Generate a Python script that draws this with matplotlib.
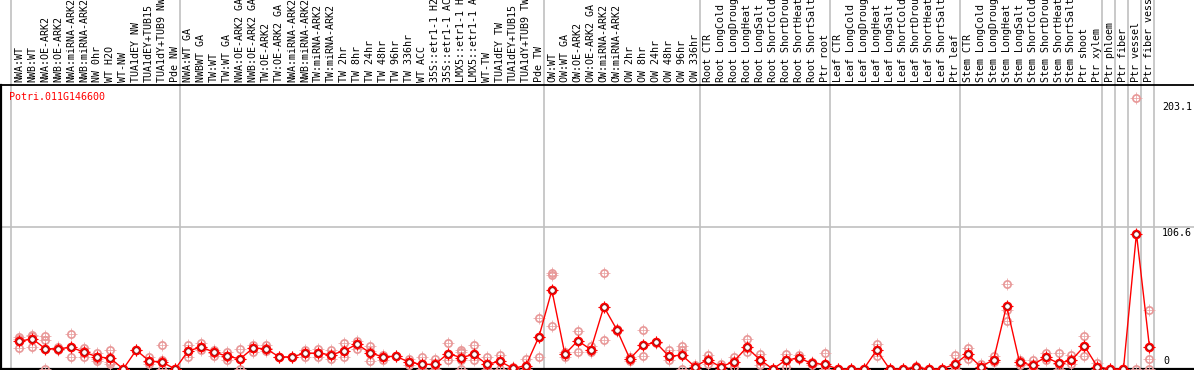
import numpy as np
import matplotlib
matplotlib.use("Agg")
from matplotlib import pyplot as plt

# sample labels, one per column
group_nw = ["NWA:WT", "NWB:WT", "NWA:OE-ARK2", "NWB:OE-ARK2", "NWA:miRNA-ARK2", "NWB:miRNA-ARK2",
            "NW 0hr", "WT H2O", "WT-NW", "TUA1dEY NW", "TUA1dEY+TUB15", "TUA1dY+TUB9 NW", "Pde NW"]
group_tw = ["NWA:WT GA", "NWBWT GA", "TW:WT", "TW:WT GA", "NWA:OE-ARK2 GA", "NWB:OE-ARK2 GA",
            "TW:OE-ARK2", "TW:OE-ARK2 GA", "NWA:miRNA-ARK2", "NWB:miRNA-ARK2", "TW:miRNA-ARK2",
            "TW:miRNA-ARK2", "TW 2hr", "TW 8hr", "TW 24hr", "TW 48hr", "TW 96hr", "TW 336hr", "WT ACC",
            "35S::etr1-1 H2O", "35S::etr1-1 ACC", "LMX5::etr1-1 H2O", "LMX5::etr1-1 ACC", "WT-TW",
            "TUA1dEY TW", "TUA1dEY+TUB15", "TUA1dY+TUB9 TW", "Pde TW"]
group_ow = ["OW:WT", "OW:WT GA", "OW:OE-ARK2", "OW:OE-ARK2 GA", "OW:miRNA-ARK2", "OW:miRNA-ARK2",
            "OW 2hr", "OW 8hr", "OW 24hr", "OW 48hr", "OW 96hr", "OW 336hr"]
group_root = ["Root CTR", "Root LongCold", "Root LongDrought", "Root LongHeat", "Root LongSalt",
              "Root ShortCold", "Root ShortDrought", "Root ShortHeat", "Root ShortSalt", "Ptr root"]
group_leaf = ["Leaf CTR", "Leaf LongCold", "Leaf LongDrought", "Leaf LongHeat", "Leaf LongSalt",
              "Leaf ShortCold", "Leaf ShortDrought", "Leaf ShortHeat", "Leaf ShortSalt", "Ptr leaf"]
group_stem = ["Stem CTR", "Stem LongCold", "Stem LongDrought", "Stem LongHeat", "Stem LongSalt",
              "Stem ShortCold", "Stem ShortDrought", "Stem ShortHeat", "Stem ShortSalt", "Ptr shoot",
              "Ptr xylem"]
group_ptr = ["Ptr phloem", "Ptr fiber", "Ptr vessel", "Ptr fiber vessel"]

groups = [group_nw, group_tw, group_ow, group_root, group_leaf, group_stem,
          group_ptr[0:1], group_ptr[1:2], group_ptr[2:3], group_ptr[3:4]]
labels = [s for g in groups for s in g]

# mean expression per sample
means = [20.7, 22.7, 15.2, 15.2, 16.2, 12.6, 9.1, 8.1, 0.0, 14.1, 6.1, 5.1, 0.0,
         13.6, 16.4, 12.6, 9.6, 7.6, 15.7, 15.2, 9.1, 9.1, 11.9, 11.9, 10.6, 13.6, 18.7, 12.1, 9.1,
         9.6, 5.1, 3.5, 3.5, 11.6, 8.6, 10.9, 3.5, 5.8, 0.5, 2.5, 24.2,
         59.1, 11.1, 21.2, 14.6, 46.7, 29.5, 7.6, 17.9, 19.9, 9.6, 10.4, 1.8,
         7.1, 1.5, 5.6, 16.2, 7.1, 0.0, 6.6, 8.3, 4.3, 3.5,
         0.0, 0.0, 0.0, 14.1, 0.0, 0.0, 1.3, 0.0, 0.0, 3.5,
         11.1, 1.8, 6.8, 47.5, 5.1, 2.8, 9.1, 4.3, 6.6, 17.2, 1.5,
         0.0, 0.0, 101.6, 16.7]

# replicate values per sample
reps = [[24.0, 22.5, 15.7], [25.8, 24.5, 16.4], [24.5, 21.5, 0.0], [16.2, 15.2, 14.4],
        [26.3, 16.2, 9.1], [15.7, 13.6, 9.1], [11.9, 7.6, 6.1], [14.4, 5.1, 3.8], [0.0, 0.0, 0.0],
        [14.1, 14.1, 14.1], [9.3, 5.1, 3.8], [17.9, 6.8, 0.0], [0.0, 0.0, 0.0],
        [17.9, 13.6, 9.1], [19.4, 16.4, 13.9], [14.4, 11.9, 10.1], [12.4, 8.8, 6.8],
        [14.9, 7.8, 0.0], [18.2, 15.7, 13.1], [17.9, 15.7, 13.6], [9.1, 9.1, 9.1],
        [9.1, 9.1, 9.1], [14.4, 11.9, 9.3], [15.2, 11.9, 9.1], [14.4, 10.6, 7.6],
        [19.4, 13.6, 9.3], [21.2, 18.7, 14.9], [17.4, 13.6, 5.8], [10.6, 9.1, 6.8],
        [9.6, 9.6, 9.6], [7.3, 5.1, 2.8], [8.8, 3.5, 0.0], [7.3, 3.3, 0.0], [19.4, 11.6, 6.8],
        [14.4, 13.1, 6.8, 0.0], [17.9, 10.9, 6.8], [9.1, 3.5, 0.0], [10.6, 5.8, 0.0],
        [1.8, 0.5, 0.0], [7.6, 0.0, 0.0], [38.4, 24.2, 9.1],
        [71.7, 70.5, 32.1], [12.6, 11.1, 9.1], [28.8, 21.2, 12.6], [17.4, 14.6, 12.6],
        [71.7, 46.7, 22.0], [30.3, 29.5, 28.8], [8.8, 7.6, 6.3], [29.5, 17.9, 9.8],
        [20.5, 19.9, 19.2], [14.4, 9.6, 6.8], [17.4, 14.4, 0.0], [3.0, 1.8, 0.0],
        [10.6, 7.1, 3.8], [3.8, 1.5, 0.0], [8.8, 5.6, 1.8], [22.7, 16.2, 12.4], [11.6, 7.1, 3.3],
        [0.0, 0.0, 0.0], [11.6, 6.6, 1.5], [10.6, 8.3, 7.3], [5.3, 4.3, 3.3], [11.9, 0.0, 0.0],
        [0.0, 0.0, 0.0], [0.0, 0.0, 0.0], [0.0, 0.0, 0.0], [18.7, 14.1, 9.8], [0.0, 0.0, 0.0],
        [0.0, 0.0, 0.0], [2.5, 1.3, 0.0], [0.0, 0.0, 0.0], [0.0, 0.0, 0.0], [10.6, 0.0, 0.0],
        [15.4, 11.1, 7.3], [3.8, 1.8, 0.0], [10.1, 6.8, 5.1], [63.6, 44.0, 36.0],
        [6.8, 5.1, 2.8], [7.0, 1.4, 0.0], [11.9, 9.1, 6.8], [11.9, 3.5, 0.0], [10.6, 6.6, 3.5],
        [25.0, 17.2, 9.8], [4.3, 1.3, 0.0], [0.0, 0.0, 0.0], [0.0, 0.0, 0.0],
        [203.1, 0.0], [43.9, 16.7, 7.3, 0.0]]

gene = "Potri.011G146600"
ytick_vals = ["203.1", "106.6", "0"]
mid_line = 106.6

W, H = 1194, 370
# pixel layout of the original
x0_px, dx_px = 19.3, 12.99
y0_px, dy_px = 369.0, 1.333
head_px = 85

fig = plt.figure(figsize=(W / 100, H / 100), dpi=100)
ax = fig.add_axes([0, 0, 1, 1])
ax.set_xlim(-x0_px / dx_px, (W - x0_px) / dx_px)
ax.set_ylim(-(H - y0_px) / dy_px, y0_px / dy_px)
ax.axis("off")

def vy(py):
    # pixel row -> data value
    return (y0_px - py) / dy_px

def xp(px):
    # pixel column -> data index
    return (px - x0_px) / dx_px

mono = "DejaVu Sans Mono"
fs = 7.2

# group separators
edges = np.cumsum([0] + [len(g) for g in groups])
for e in edges:
    ax.axvline(e - 0.616, color="#c0c0c0", lw=1.2, zorder=1)

# frame lines
ax.axhline(vy(head_px), color="black", lw=1.3, zorder=2)
ax.axhline(vy(369), color="black", lw=1.6, zorder=2)
ax.axhline(mid_line, color="#c0c0c0", lw=1.2, zorder=1)
ax.plot([xp(1.0), xp(1.0)], [vy(head_px), vy(370)], color="black", lw=1.6, zorder=2)

# column labels
x = np.arange(len(labels))
for i, lab in enumerate(labels):
    ax.text(i, vy(82), lab, rotation=90, ha="center", va="bottom", fontsize=fs,
            family=mono, color="black", zorder=3)

# replicates
for i, r in enumerate(reps):
    ax.plot([i] * len(r), r, linestyle="none", marker="+", ms=8, mew=0.6,
            color="#eaa8a8", zorder=3)
    ax.plot([i] * len(r), r, linestyle="none", marker="o", ms=5.2, mew=1.2,
            mfc="none", mec="#e89898", zorder=3)

# mean line
ax.plot(x, means, color="red", lw=1.0, zorder=4)
ax.plot(x, means, linestyle="none", marker="+", ms=8.5, mew=0.8, color="red", zorder=5)
ax.plot(x, means, linestyle="none", marker="o", ms=5.4, mew=1.5, mfc="white", mec="red", zorder=5)
ax.plot(x, means, linestyle="none", marker="o", ms=3.9, mew=0.5, mfc="none", mec="#800000", zorder=6)

# gene name
ax.text(xp(9.5), vy(97), gene, ha="left", va="center",
        fontsize=fs, family=mono, color="red", zorder=6)

# value labels on the right
ax.text(xp(1162), vy(102), ytick_vals[0], ha="left", va="top", fontsize=fs, family=mono, zorder=6)
ax.text(xp(1162), vy(227.5), ytick_vals[1], ha="left", va="top", fontsize=fs, family=mono, zorder=6)
ax.text(xp(1163), vy(366), ytick_vals[2], ha="left", va="bottom", fontsize=fs, family=mono, zorder=6)

fig.savefig("out.png", dpi=100)
